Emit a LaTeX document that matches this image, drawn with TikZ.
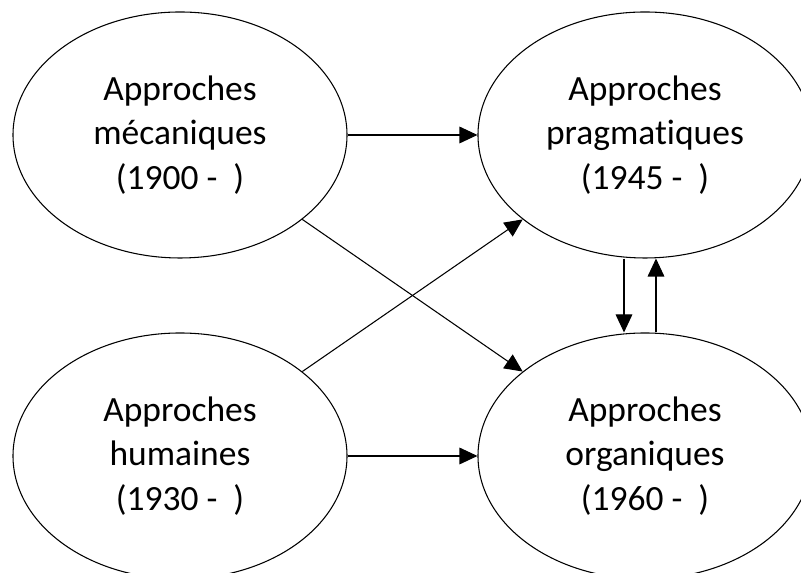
\documentclass[tikz,border=0pt]{standalone}
\usepackage{fontspec}
\setmainfont{Carlito}[Ligatures=CommonOff]
\usetikzlibrary{shapes}
\usetikzlibrary{positioning}
\usetikzlibrary{arrows.meta}

\begin{document}
\begin{tikzpicture}[x=0.75pt,y=0.75pt,
  approche/.style={draw,ellipse,line width=0.8pt,inner sep=0pt,
    minimum width=250.5pt,minimum height=184.5pt,align=center,
    font=\fontsize{26.6}{33.5}\selectfont},
  fleche/.style={line width=0.8pt,-{Triangle[length=13.5pt,width=12.5pt]}}]
\path[use as bounding box] (0,0) rectangle (801,573);
\begin{scope}
\path[clip] (0,0) rectangle (801,573);

\node[approche] (meca) at (180,438) {Approches\\mécaniques\\(1900 -~~)};
\node[approche] (prag) at (645,438) {Approches\\pragmatiques\\(1945 -~~)};
\node[approche] (huma) at (180,117) {Approches\\humaines\\(1930 -~~)};
\node[approche] (orga) at (645,117) {Approches\\organiques\\(1960 -~~)};

\draw[fleche] (meca) -- (prag);
\draw[fleche] (meca) -- (orga);
\draw[fleche] (huma) -- (prag);
\draw[fleche] (huma) -- (orga);
\draw[fleche] ([xshift=-15.75pt]prag.south) -- ([xshift=-15.75pt]orga.north);
\draw[fleche] ([xshift=8.25pt]orga.north) -- ([xshift=8.25pt]prag.south);
\end{scope}
\end{tikzpicture}
\end{document}
